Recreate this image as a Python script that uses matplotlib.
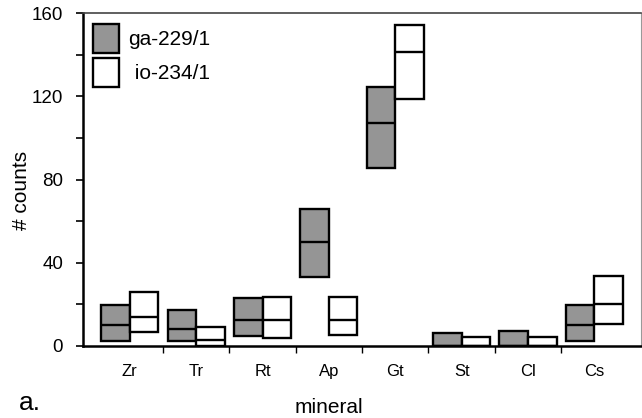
import numpy as np
import matplotlib.pyplot as plt
from matplotlib.patches import Patch

plt.rcParams['font.family'] = ['Liberation Sans', 'DejaVu Sans']

minerals = ['Zr', 'Tr', 'Rt', 'Ap', 'Gt', 'St', 'Cl', 'Cs']

# ga-229/1: low / median / high counts
ga_low = [2.4, 2.4, 4.7, 33.0, 85.5, 0.0, 0.0, 2.4]
ga_med = [9.8, 8.2, 12.2, 50.1, 107.3, 0.0, 0.0, 9.8]
ga_high = [19.5, 17.0, 23.1, 65.9, 124.5, 6.1, 7.2, 19.6]

# io-234/1: low / median / high counts
io_low = [6.6, 0.0, 3.9, 5.2, 119.0, 0.0, 0.0, 10.3]
io_med = [13.8, 2.6, 12.5, 12.6, 141.2, 0.0, 0.0, 20.1]
io_high = [26.0, 8.9, 23.6, 23.6, 154.6, 4.0, 4.0, 33.4]

gray = '#959595'
w = 0.43
lw = 1.7

fig = plt.figure(figsize=(6.42, 4.18), dpi=100)
ax = fig.add_axes([0.1288, 0.173, 0.8704, 0.795])

x = np.arange(len(minerals))

def boxes(xpos, low, med, high, color):
    low, med, high = map(np.array, (low, med, high))
    ax.bar(xpos, high - low, bottom=low, width=w, color=color,
           edgecolor='black', linewidth=lw, align='center', zorder=3)
    ax.hlines(med, xpos - w / 2, xpos + w / 2, color='black', linewidth=lw, zorder=4)

boxes(x - w / 2, ga_low, ga_med, ga_high, gray)
boxes(x + w / 2, io_low, io_med, io_high, 'white')

ax.set_xlim(-0.71, 7.71)
ax.set_ylim(0, 160)

ax.set_yticks([0, 40, 80, 120, 160])
ax.set_yticks([20, 60, 100, 140], minor=True)
ax.tick_params(axis='y', which='both', direction='out', length=5, width=1.2,
               labelsize=13.5, pad=9)

ax.set_xticks(x)
ax.set_xticklabels(minerals)
ax.set_xticks(np.arange(0.5, 7, 1.0), minor=True)
ax.tick_params(axis='x', which='major', length=0, labelsize=12, pad=13)
ax.tick_params(axis='x', which='minor', direction='out', length=5, width=1.0)

ax.spines['left'].set_linewidth(1.8)
ax.spines['bottom'].set_linewidth(1.8)
ax.spines['top'].set_linewidth(1.2)
ax.spines['top'].set_color('#444444')
ax.spines['right'].set_linewidth(0.8)
ax.spines['right'].set_color('#999999')

handles = [Patch(facecolor=gray, edgecolor='black', linewidth=lw, label='ga-229/1'),
           Patch(facecolor='white', edgecolor='black', linewidth=lw, label=' io-234/1')]
ax.legend(handles=handles, loc='upper left', frameon=False, fontsize=15,
          handlelength=1.25, handleheight=1.75, handletextpad=0.45,
          labelspacing=0.25, borderaxespad=0.3, borderpad=0.2)

fig.text(0.034, 0.545, '# counts', rotation=90, fontsize=15,
         ha='center', va='center')
fig.text(0.513, 0.026, 'mineral', fontsize=15, ha='center', va='center')
fig.text(0.03, 0.035, 'a.', fontsize=19, ha='left', va='center')

fig.savefig('out.png', dpi=100)
